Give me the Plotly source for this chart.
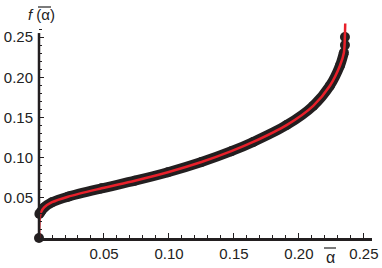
import plotly.graph_objects as go

# red fitted curve
red_alpha = [0, 0.0002, 0.0006, 0.0015, 0.004, 0.01, 0.0223, 0.0482, 0.0738, 0.0992, 0.125,
             0.148, 0.1648, 0.1905, 0.2110, 0.2238, 0.2315, 0.2346, 0.2354, 0.2356]
red_f = [0, 0.012, 0.025, 0.032, 0.038, 0.0445, 0.0514, 0.0618, 0.0713, 0.0818, 0.0945,
         0.108, 0.1195, 0.1405, 0.1645, 0.1894, 0.2143, 0.2309, 0.2546, 0.267]

# black numerical points (continuous band)
blk_alpha = [0.0003, 0.0015, 0.004, 0.01, 0.0223, 0.0482, 0.0738, 0.0992, 0.125,
             0.148, 0.1648, 0.1905, 0.2110, 0.2238, 0.2315, 0.2346]
blk_f = [0.030, 0.033, 0.038, 0.0445, 0.0514, 0.0618, 0.0713, 0.0818, 0.0945,
         0.108, 0.1195, 0.1405, 0.1645, 0.1894, 0.2143, 0.2309]
# isolated black points
dot_alpha = [0, 0.2354, 0.2354]
dot_f = [0, 0.240, 0.250]

xticks = [0.05, 0.10, 0.15, 0.20, 0.25]
yticks = [0.05, 0.10, 0.15, 0.20, 0.25]

BLACK = "#231f20"
RED = "#e8202a"
FONT = "Liberation Sans, Arial, sans-serif"

L, R, T, B = 39, 10, 21, 30
W, H = 382, 268
PW, PH = W - L - R, H - T - B


def px2paper(px, py):
    return (px - L) / PW, (H - B - py) / PH


fig = go.Figure()
fig.add_trace(go.Scatter(x=blk_alpha, y=blk_f, mode="lines+markers",
                         line=dict(color=BLACK, width=10, shape="spline", smoothing=0.8),
                         marker=dict(color=BLACK, size=10), cliponaxis=False))
fig.add_trace(go.Scatter(x=dot_alpha, y=dot_f, mode="markers",
                         marker=dict(color=BLACK, size=10), cliponaxis=False))
fig.add_trace(go.Scatter(x=red_alpha, y=red_f, mode="lines",
                         line=dict(color=RED, width=2.5, shape="spline", smoothing=0.8)))

XMAX = 0.2562
YMAX = 0.27
fig.update_layout(
    width=W, height=H,
    margin=dict(l=L, r=R, t=T, b=B, autoexpand=False),
    paper_bgcolor="white", plot_bgcolor="white",
    showlegend=False,
    font=dict(family=FONT, size=15, color="#222"),
    xaxis=dict(range=[0, XMAX], showgrid=False, zeroline=False, automargin=False,
               showline=True, linecolor=BLACK, linewidth=2.5,
               tickmode="array", tickvals=xticks,
               ticktext=[f"{v:.2f}" for v in xticks],
               ticks="inside", ticklen=5, tickwidth=1, tickcolor=BLACK,
               minor=dict(tickmode="linear", tick0=0, dtick=0.01,
                          ticks="inside", ticklen=3, tickwidth=1, tickcolor=BLACK)),
    yaxis=dict(range=[0, YMAX], showgrid=False, zeroline=False, automargin=False,
               showline=False, ticklabelstandoff=5,
               tickmode="array", tickvals=yticks,
               ticktext=[f"{v:.2f}" for v in yticks],
               ticks="inside", ticklen=5, tickwidth=1, tickcolor=BLACK,
               minor=dict(tickmode="linear", tick0=0, dtick=0.01,
                          ticks="inside", ticklen=3, tickwidth=1, tickcolor=BLACK)),
)
fig.add_shape(type="line", xref="paper", yref="paper", x0=0, x1=0,
              y0=0, y1=0.255 / YMAX, line=dict(color=BLACK, width=2.5))

# top-left axis label f(ᾱ)
fx, fy = px2paper(41, 15)
fig.add_annotation(xref="paper", yref="paper", x=fx, y=fy, xanchor="center",
                   yanchor="middle", text="<i>f</i> (α)", showarrow=False,
                   font=dict(family=FONT, size=15, color="#222"))
ox0, oy = px2paper(38, 7)
ox1, _ = px2paper(51, 7)
fig.add_shape(type="line", xref="paper", yref="paper", x0=ox0, x1=ox1, y0=oy, y1=oy,
              line=dict(color="#222", width=1.2))

# bottom axis label ᾱ
ax, ay = px2paper(330, 257)
fig.add_annotation(xref="paper", yref="paper", x=ax, y=ay, xanchor="center",
                   yanchor="middle", text="α", showarrow=False,
                   font=dict(family=FONT, size=16, color="#222"))
bx0, by = px2paper(324, 248)
bx1, _ = px2paper(336, 248)
fig.add_shape(type="line", xref="paper", yref="paper", x0=bx0, x1=bx1, y0=by, y1=by,
              line=dict(color="#222", width=1.2))

fig.write_html("out.html", post_script="document.body.style.margin='0';",
               config={"displayModeBar": False})
